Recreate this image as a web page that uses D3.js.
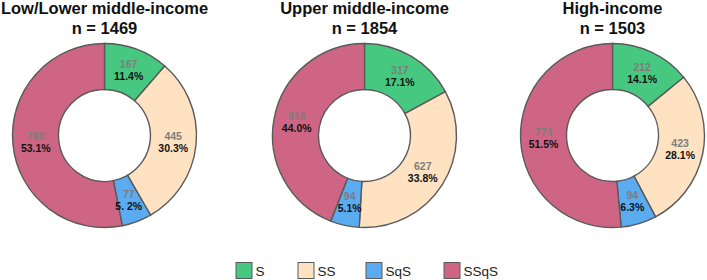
<!DOCTYPE html>
<html><head><meta charset="utf-8">
<script src="https://cdn.jsdelivr.net/npm/d3@7"></script>
<style>body{margin:0;background:#fff;} svg{display:block;font-family:"Liberation Sans",Arial,sans-serif;}</style>
</head><body>
<svg id="chart" width="707" height="280"></svg>
<script>
const categories = ["S", "SS", "SqS", "SSqS"];
const colors = ["#46C880", "#FEE2C2", "#5AABEF", "#CF6584"];
const groups = ["Low/Lower middle-income", "Upper middle-income", "High-income"];
const totals = [1469, 1854, 1503];
const countsLow = [167, 445, 77, 780];
const countsUpper = [317, 627, 94, 816];
const countsHigh = [212, 423, 94, 774];
const pctLow = ["11.4%", "30.3%", "5. 2%", "53.1%"];
const pctUpper = ["17.1%", "33.8%", "5.1%", "44.0%"];
const pctHigh = ["14.1%", "28.1%", "6.3%", "51.5%"];

const counts = [countsLow, countsUpper, countsHigh];
const pcts = [pctLow, pctUpper, pctHigh];
const centersX = [104.5, 364.5, 612.5];
const cy = 135.5, outerR = 92, innerR = 46;

const svg = d3.select("#chart");
const color = d3.scaleOrdinal().domain(categories).range(colors);
const pie = d3.pie().sort(null).value(d => d.v);
const arc = d3.arc().innerRadius(innerR).outerRadius(outerR);

groups.forEach((g, gi) => {
  const data = categories.map((c, i) => ({c, v: counts[gi][i], p: pcts[gi][i]}));
  const G = svg.append("g").attr("transform", `translate(${centersX[gi]},${cy})`);
  const arcs = pie(data);
  G.selectAll("path").data(arcs).join("path")
    .attr("d", arc)
    .attr("fill", d => color(d.data.c))
    .attr("stroke", "#5a5a5a").attr("stroke-width", 1.4);
  const lab = G.selectAll("g.lab").data(arcs).join("g").attr("class", "lab")
    .attr("transform", d => `translate(${arc.centroid(d)})`);
  lab.append("text").attr("text-anchor", "middle").attr("y", -2.5)
    .attr("font-size", 10.5).attr("font-weight", "bold").attr("fill", "#7d7d7d")
    .text(d => d.data.v);
  lab.append("text").attr("text-anchor", "middle").attr("y", 9.5)
    .attr("font-size", 10.5).attr("font-weight", "bold").attr("fill", "#111")
    .text(d => d.data.p);
  const T = svg.append("text").attr("text-anchor", "middle")
    .attr("font-size", 16.5).attr("font-weight", "bold").attr("fill", "#111");
  T.append("tspan").attr("x", centersX[gi]).attr("y", 14).text(g);
  T.append("tspan").attr("x", centersX[gi]).attr("y", 33.5).text("n = " + totals[gi]);
});

const legX = [236, 298, 366, 444];
const leg = svg.append("g");
categories.forEach((c, i) => {
  leg.append("rect").attr("x", legX[i]).attr("y", 262.5).attr("width", 16).attr("height", 16)
    .attr("fill", color(c)).attr("stroke", "#5a5a5a").attr("stroke-width", 1);
  leg.append("text").attr("x", legX[i] + 19.5).attr("y", 275.5)
    .attr("font-size", 13.5).attr("fill", "#222").text(c);
});
</script>
</body></html>
